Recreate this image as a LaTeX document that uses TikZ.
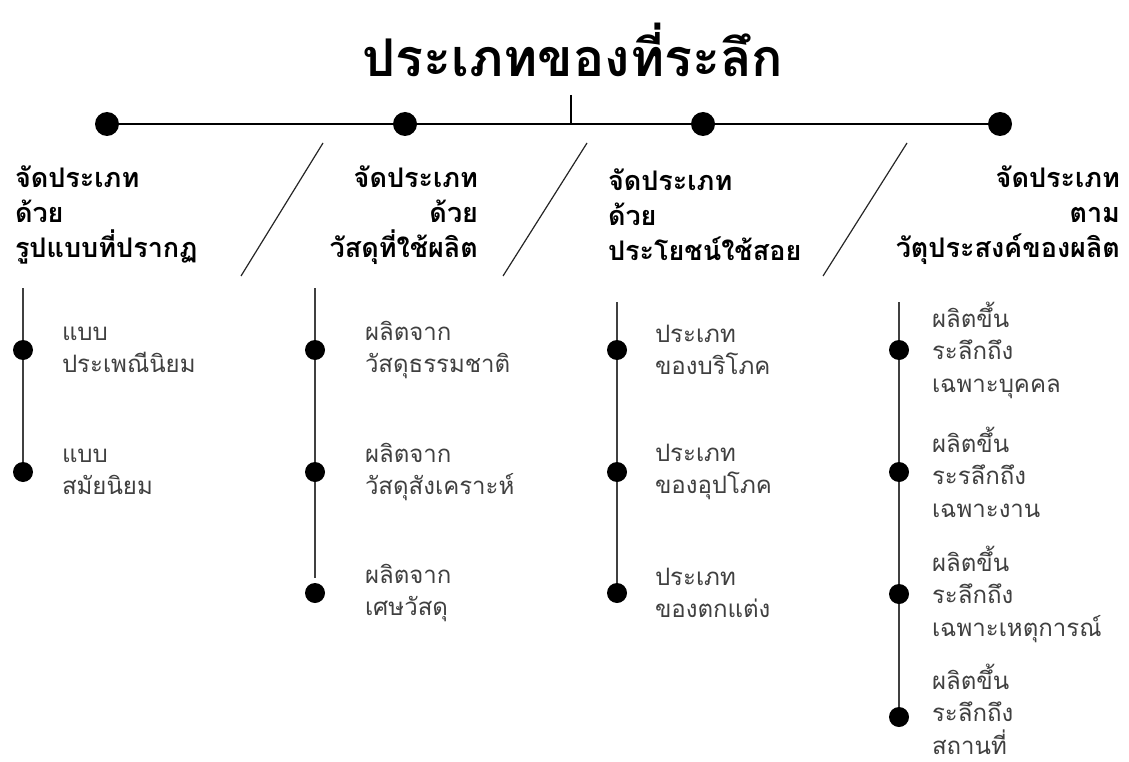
\documentclass[tikz,border=0pt]{standalone}
\usepackage{fontspec}
\newfontfamily\thaifont[Script=Thai]{Loma}
\begin{document}
\begin{tikzpicture}[x=1pt,y=-1pt,
  every node/.style={inner sep=0pt,outer sep=0pt},
  bigdot/.style={circle,fill=black,minimum size=24pt},
  listdot/.style={circle,fill=black,minimum size=20pt},
  mainline/.style={line width=1.4pt,black},
  slashline/.style={line width=1.2pt,black!85},
  listline/.style={line width=1.5pt,black!75},
  titletext/.style={font=\thaifont\bfseries\fontsize{52}{60}\selectfont},
  headtext/.style={font=\thaifont\bfseries\fontsize{27}{35}\selectfont},
  itemtext/.style={font=\thaifont\fontsize{24}{32.5}\selectfont,text=black!75,align=left,anchor=west}
]
\useasboundingbox (0,0) rectangle (1129,762);
\fill[white] (0,0) rectangle (1129,762);

% title
\node[titletext] (title) at (573,50) {ประเภทของที่ระลึก};
\coordinate (tick) at (571,95);
\coordinate (hub) at (571,124);
\draw[mainline] (tick) -- (hub);

% top dots
\node[bigdot] (d1) at (107,124) {};
\node[bigdot] (d2) at (405,124) {};
\node[bigdot] (d3) at (703,124) {};
\node[bigdot] (d4) at (1000,124) {};
\draw[mainline] (d1) -- (d2) -- (d3) -- (d4);

% slashes
\coordinate (s1a) at (241,276); \coordinate (s1b) at (323,143);
\coordinate (s2a) at (503,276); \coordinate (s2b) at (587,143);
\coordinate (s3a) at (823,276); \coordinate (s3b) at (907,143);
\draw[slashline] (s1a) -- (s1b);
\draw[slashline] (s2a) -- (s2b);
\draw[slashline] (s3a) -- (s3b);

% headers
\node[headtext,align=left,anchor=west] (h1) at (15,215) {จัดประเภท\\ด้วย\\รูปแบบที่ปรากฏ};
\node[headtext,align=right,anchor=east] (h2) at (478,215) {จัดประเภท\\ด้วย\\วัสดุที่ใช้ผลิต};
\node[headtext,align=left,anchor=west] (h3) at (608,215) {จัดประเภท\\ด้วย\\ประโยชน์ใช้สอย};
\node[headtext,align=right,anchor=east] (h4) at (1120,215) {จัดประเภท\\ตาม\\วัตุประสงค์ของผลิต};

% column 1
\coordinate (c1top) at (23,288);
\node[listdot] (a1) at (23,350) {};
\node[listdot] (a2) at (23,472) {};
\draw[listline] (c1top) -- (a1) -- (a2);
\node[itemtext] (ta1) at (62,350) {แบบ\\ประเพณีนิยม};
\node[itemtext] (ta2) at (62,472) {แบบ\\สมัยนิยม};

% column 2
\coordinate (c2top) at (315,288);
\coordinate (c2end) at (315,578);
\node[listdot] (b1) at (315,350) {};
\node[listdot] (b2) at (315,472) {};
\node[listdot] (b3) at (315,593) {};
\draw[listline] (c2top) -- (b1) -- (b2) -- (c2end);
\node[itemtext] (tb1) at (365,350) {ผลิตจาก\\วัสดุธรรมชาติ};
\node[itemtext] (tb2) at (365,472) {ผลิตจาก\\วัสดุสังเคราะห์};
\node[itemtext] (tb3) at (365,593) {ผลิตจาก\\เศษวัสดุ};

% column 3
\coordinate (c3top) at (617,302);
\node[listdot] (e1) at (617,350) {};
\node[listdot] (e2) at (617,472) {};
\node[listdot] (e3) at (617,593) {};
\draw[listline] (c3top) -- (e1) -- (e2) -- (e3);
\node[itemtext] (te1) at (655,350) {ประเภท\\ของบริโภค};
\node[itemtext] (te2) at (655,472) {ประเภท\\ของอุปโภค};
\node[itemtext] (te3) at (655,593) {ประเภท\\ของตกแต่ง};

% column 4
\coordinate (c4top) at (899,302);
\node[listdot] (f1) at (899,350) {};
\node[listdot] (f2) at (899,472) {};
\node[listdot] (f3) at (899,594) {};
\node[listdot] (f4) at (899,717) {};
\draw[listline] (c4top) -- (f1) -- (f2) -- (f3) -- (f4);
\node[itemtext] (tf1) at (932,350) {ผลิตขึ้น\\ระลึกถึง\\เฉพาะบุคคล};
\node[itemtext] (tf2) at (932,472) {ผลิตขึ้น\\ระรลึกถึง\\เฉพาะงาน};
\node[itemtext] (tf3) at (932,594) {ผลิตขึ้น\\ระลึกถึง\\เฉพาะเหตุการณ์};
\node[itemtext] (tf4) at (932,709) {ผลิตขึ้น\\ระลึกถึง\\สถานที่};
\end{tikzpicture}
\end{document}
